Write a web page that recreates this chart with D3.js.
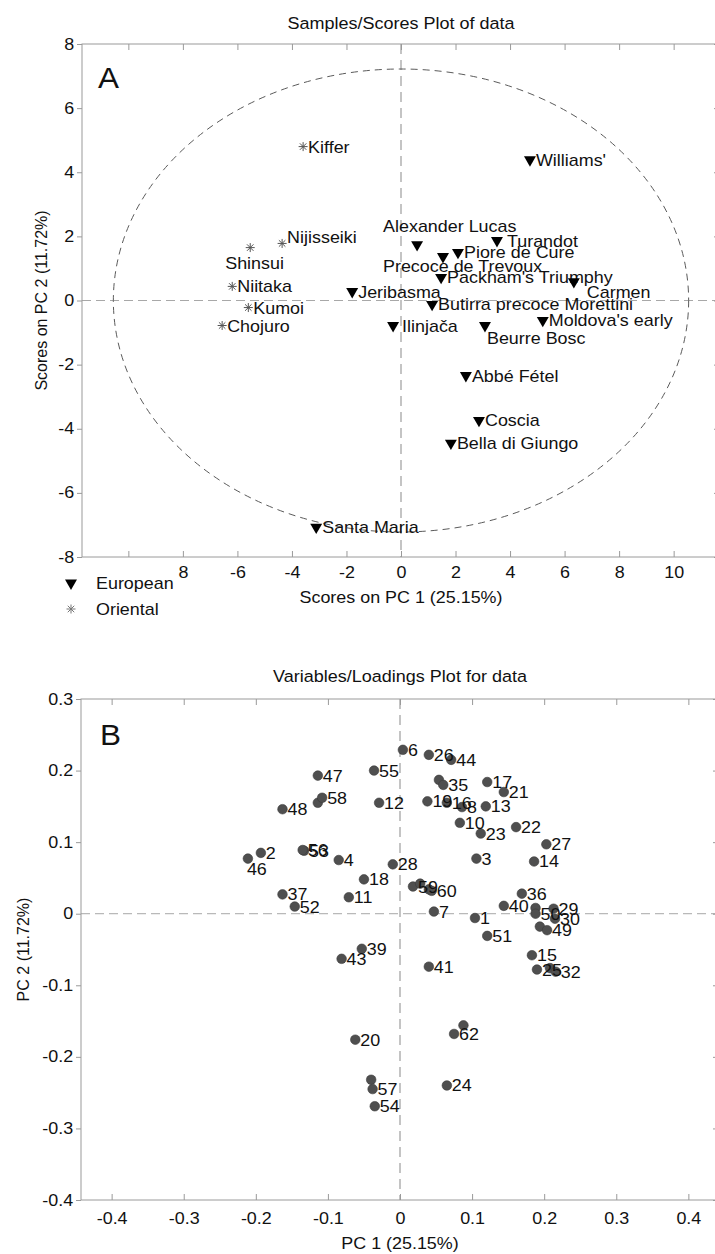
<!DOCTYPE html>
<html>
<head>
<meta charset="utf-8">
<script src="https://cdn.jsdelivr.net/npm/d3@7"></script>
<style>
  html, body { margin: 0; padding: 0; background: #fff; }
  svg { display: block; font-family: "Liberation Sans", Arial, sans-serif; }
</style>
</head>
<body>
<div id="chart"></div>
<script>
// ---------- panel A : scores ----------
const europeanNames = ["Williams'", "Alexander Lucas", "Turandot", "Piore de Cure", "Precoce de Trevoux",
  "Packham's Triumphy", "Carmen", "Jeribasma", "Butirra precoce Morettini", "Ilinjača", "Beurre Bosc",
  "Moldova's early", "Abbé Fétel", "Coscia", "Bella di Giungo", "Santa Maria"];
const europeanX = [4.73, 0.59, 3.52, 2.09, 1.54, 1.47, 6.34, -1.79, 1.14, -0.29, 3.08, 5.20, 2.38, 2.86, 1.83, -3.11];
const europeanY = [4.39, 1.74, 1.87, 1.50, 1.37, 0.72, 0.59, 0.28, -0.12, -0.78, -0.78, -0.62, -2.34, -3.74, -4.45, -7.07];

const orientalNames = ["Kiffer", "Nijisseiki", "Shinsui", "Niitaka", "Kumoi", "Chojuro"];
const orientalX = [-3.59, -4.36, -5.53, -6.19, -5.60, -6.56];
const orientalY = [4.80, 1.78, 1.65, 0.44, -0.22, -0.78];

// confidence ellipse half-axes (score units)
const ellipseRx = 10.55;
const ellipseRy = 7.22;

const scoreTicksX = [-10, -8, -6, -4, -2, 0, 2, 4, 6, 8, 10];
// in the source the legend box hides "-10" and the minus of "-8"
const scoreTickTextX = ["", "8", "-6", "-4", "-2", "0", "2", "4", "6", "8", "10"];
const scoreTicksY = [-8, -6, -4, -2, 0, 2, 4, 6, 8];

// ---------- panel B : loadings ----------
const varIds = d3.range(1, 63);
const loadX = [0.104, -0.193, 0.106, -0.085, 0.208, 0.004, 0.047, 0.086, 0.040, 0.083,
  -0.071, -0.029, 0.119, 0.186, 0.183, 0.065, 0.121, -0.050, 0.038, -0.062,
  0.144, 0.161, 0.112, 0.065, 0.190, 0.040, 0.203, -0.010, 0.213, 0.215,
  0.188, 0.216, 0.194, 0.054, 0.060, 0.169, -0.163, -0.114, -0.053, 0.144,
  0.040, -0.040, -0.081, 0.071, 0.088, -0.211, -0.114, -0.163, 0.204, 0.188,
  0.121, -0.146, -0.133, -0.035, -0.036, -0.135, -0.038, -0.108, 0.018, 0.044,
  0.028, 0.075];
const loadY = [-0.006, 0.085, 0.077, 0.075, -0.076, 0.229, 0.003, 0.149, 0.034, 0.127,
  0.023, 0.155, 0.150, 0.073, -0.058, 0.155, 0.184, 0.048, 0.157, -0.176,
  0.170, 0.121, 0.112, -0.240, -0.078, 0.222, 0.097, 0.069, 0.007, -0.007,
  0.008, -0.081, -0.018, 0.187, 0.180, 0.028, 0.027, 0.155, -0.049, 0.011,
  -0.074, -0.232, -0.063, 0.215, -0.156, 0.077, 0.193, 0.146, -0.023, 0.000,
  -0.031, 0.010, 0.088, -0.269, 0.200, 0.089, -0.245, 0.162, 0.038, 0.032,
  0.042, -0.168];
// labels that sit hidden under other points in the original
const hiddenIds = [5, 9, 31, 33, 34, 38, 42, 45, 61];

const loadTicksX = [-0.4, -0.3, -0.2, -0.1, 0, 0.1, 0.2, 0.3, 0.4];
const loadTicksY = [-0.4, -0.3, -0.2, -0.1, 0, 0.1, 0.2, 0.3];

// ---------- layout ----------
const W = 715, H = 1254;
const SX = 1.12;           // source figure is slightly stretched sideways
const FRAME = "#9a9a9a";
const INK = "#111";

// label offsets that differ from "right of the marker"
const scoreLabelShift = {
  "Alexander Lucas": [-34, -13],
  "Precoce de Trevoux": [-60, 15],
  "Carmen": [13, 16],
  "Beurre Bosc": [2, 18],
  "Shinsui": [-25, 21],
  "Nijisseiki": [5, 0],
  "Turandot": [10, 6],
  "Ilinjača": [9, 6]
};
const loadLabelShift = { 46: [-1, 16] };

const svg = d3.select("#chart").append("svg")
  .attr("width", W).attr("height", H);
svg.append("rect").attr("width", W).attr("height", H).attr("fill", "#fff");

function txt(g, x, y, s, size, anchor, sx) {
  return g.append("text")
    .attr("transform", `translate(${x},${y}) scale(${sx || SX},1)`)
    .attr("text-anchor", anchor || "start")
    .style("font-size", size + "px")
    .attr("fill", INK)
    .text(s);
}

function frameAxes(g, x, y, ticksX, ticksY, pad, fmtX) {
  const [x0, x1] = x.range();
  const [y0, y1] = y.range();  // y0 bottom, y1 top
  const fmt = d => String(d);

  const bottom = g.append("g").attr("transform", `translate(0,${y0})`)
    .call(d3.axisBottom(x).tickValues(ticksX).tickSize(-6).tickPadding(pad).tickFormat(fmtX || fmt));
  const top = g.append("g").attr("transform", `translate(0,${y1})`)
    .call(d3.axisTop(x).tickValues(ticksX).tickSize(-6).tickFormat(""));
  const left = g.append("g").attr("transform", `translate(${x0},0)`)
    .call(d3.axisLeft(y).tickValues(ticksY).tickSize(5).tickPadding(2).tickFormat(fmt));
  const right = g.append("g").attr("transform", `translate(${x1},0)`)
    .call(d3.axisLeft(y).tickValues(ticksY).tickSize(6).tickFormat(""));

  [bottom, top, left, right].forEach(a => {
    a.select(".domain").remove();
    a.selectAll("line").attr("stroke", FRAME);
    a.selectAll("text")
      .attr("fill", INK)
      .style("font-size", "16px")
      .style("font-family", "'Liberation Sans', Arial, sans-serif")
      .attr("transform", `scale(${SX},1)`);
  });

  g.append("rect")
    .attr("x", x0).attr("y", y1)
    .attr("width", x1 - x0).attr("height", y0 - y1)
    .attr("fill", "none").attr("stroke", FRAME).attr("stroke-width", 1);
}

function zeroLines(g, x, y) {
  g.append("line")
    .attr("x1", x(0)).attr("x2", x(0))
    .attr("y1", y.range()[1]).attr("y2", y.range()[0])
    .attr("stroke", "#c4c4c4").attr("stroke-width", 2).attr("stroke-dasharray", "10,6");
  g.append("line")
    .attr("x1", x.range()[0]).attr("x2", x.range()[1])
    .attr("y1", y(0)).attr("y2", y(0))
    .attr("stroke", "#a8a8a8").attr("stroke-width", 1).attr("stroke-dasharray", "9,5");
}

const triangle = d3.symbol().type(d3.symbolTriangle).size(62);
function asterisk(r) {
  const a = r * 0.72;
  return `M${-r},0H${r}M0,${-r}V${r}M${-a},${-a}L${a},${a}M${-a},${a}L${a},${-a}`;
}

// ================= panel A =================
const xA = d3.scaleLinear().domain([-11.7, 11.7]).range([82, 720]);
const yA = d3.scaleLinear().domain([-8, 8]).range([557, 44]);
const gA = svg.append("g");

txt(gA, xA(0), 29, "Samples/Scores Plot of data", 17, "middle", 1.06);
zeroLines(gA, xA, yA);

gA.append("ellipse")
  .attr("cx", xA(0)).attr("cy", yA(0))
  .attr("rx", xA(ellipseRx) - xA(0)).attr("ry", yA(0) - yA(ellipseRy))
  .attr("fill", "none").attr("stroke", "#5a5a5a").attr("stroke-width", 1)
  .attr("stroke-dasharray", "7,5");

frameAxes(gA, xA, yA, scoreTicksX, scoreTicksY, 10,
  d => scoreTickTextX[scoreTicksX.indexOf(d)]);

txt(gA, 98, 88, "A", 30, "start", 1.05);

europeanNames.forEach((n, i) => {
  const px = xA(europeanX[i]), py = yA(europeanY[i]);
  gA.append("path").attr("d", triangle)
    .attr("transform", `translate(${px},${py}) rotate(180)`)
    .attr("fill", "#000");
  const s = scoreLabelShift[n] || [6, 6];
  txt(gA, px + s[0], py + s[1], n, 16);
});
orientalNames.forEach((n, i) => {
  const px = xA(orientalX[i]), py = yA(orientalY[i]);
  gA.append("path").attr("d", asterisk(4.5))
    .attr("transform", `translate(${px},${py})`)
    .attr("fill", "none").attr("stroke", "#555").attr("stroke-width", 1);
  const s = scoreLabelShift[n] || [5, 6];
  txt(gA, px + s[0], py + s[1], n, 16);
});

// axis titles
txt(gA, xA(0), 603, "Scores on PC 1 (25.15%)", 16, "middle");
gA.append("text")
  .attr("transform", `translate(47,${yA(0)}) rotate(-90)`)
  .attr("text-anchor", "middle").attr("fill", INK)
  .style("font-size", "16px")
  .text("Scores on PC 2 (11.72%)");

// legend
const leg = gA.append("g");
leg.append("path").attr("d", triangle).attr("transform", "translate(71,583) rotate(180)").attr("fill", "#000");
txt(leg, 96, 589, "European", 16);
leg.append("path").attr("d", asterisk(4.5)).attr("transform", "translate(71,609)")
  .attr("fill", "none").attr("stroke", "#777").attr("stroke-width", 1);
txt(leg, 96, 615, "Oriental", 16);

// ================= panel B =================
const xB = d3.scaleLinear().domain([-0.4425, 0.4425]).range([81, 719]);
const yB = d3.scaleLinear().domain([-0.4, 0.3]).range([1200, 699]);
const gB = svg.append("g");

txt(gB, xB(0), 682, "Variables/Loadings Plot for data", 17, "middle", 1.06);
zeroLines(gB, xB, yB);
frameAxes(gB, xB, yB, loadTicksX, loadTicksY, 13);
txt(gB, 100, 745, "B", 30, "start", 1.05);

const pts = varIds.map((id, i) => ({ id, x: loadX[i], y: loadY[i] }));
gB.selectAll("circle.pt").data(pts).join("circle")
  .attr("class", "pt")
  .attr("cx", d => xB(d.x)).attr("cy", d => yB(d.y))
  .attr("r", 4.8)
  .attr("fill", "#4f4f4f").attr("stroke", "#3a3a3a").attr("stroke-width", 0.6);

pts.filter(d => !hiddenIds.includes(d.id)).forEach(d => {
  const s = loadLabelShift[d.id] || [5, 6];
  txt(gB, xB(d.x) + s[0], yB(d.y) + s[1], String(d.id), 16);
});

txt(gB, xB(0), 1249, "PC 1 (25.15%)", 16, "middle");
gB.append("text")
  .attr("transform", `translate(29,${yB(-0.05)}) rotate(-90)`)
  .attr("text-anchor", "middle").attr("fill", INK)
  .style("font-size", "16px")
  .text("PC 2 (11.72%)");
</script>
</body>
</html>
